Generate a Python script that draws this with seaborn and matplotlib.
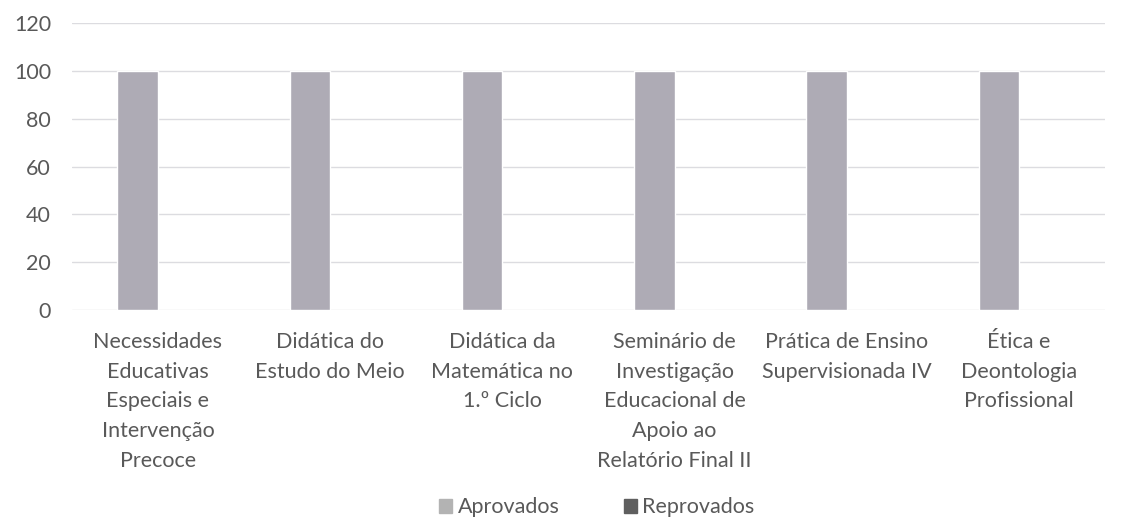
import pandas as pd
import matplotlib.pyplot as plt
import seaborn as sns
from matplotlib.patches import Patch

disciplinas = [
    "Necessidades\nEducativas\nEspeciais e\nIntervenção\nPrecoce",
    "Didática do\nEstudo do Meio",
    "Didática da\nMatemática no\n1.º Ciclo",
    "Seminário de\nInvestigação\nEducacional de\nApoio ao\nRelatório Final II",
    "Prática de Ensino\nSupervisionada IV",
    "Ética e\nDeontologia\nProfissional",
]
aprovados = [100, 100, 100, 100, 100, 100]
reprovados = [0, 0, 0, 0, 0, 0]
series = ["Aprovados", "Reprovados"]
y_ticks = [0, 20, 40, 60, 80, 100, 120]

df = pd.DataFrame({
    "disciplina": disciplinas * 2,
    "valor": aprovados + reprovados,
    "serie": [series[0]] * len(disciplinas) + [series[1]] * len(disciplinas),
})

sns.set_style("white")
plt.rcParams['font.family'] = ['Lato', 'DejaVu Sans']
txt = "#595959"

fig, ax = plt.subplots(figsize=(11.22, 5.21), dpi=100)
fig.subplots_adjust(left=0.064, right=0.985, top=0.955, bottom=0.405)

colors = {"Aprovados": "#aeabb5", "Reprovados": "#5f5f5f"}
sns.barplot(data=df, x="disciplina", y="valor", hue="serie", palette=colors,
            width=0.47, ax=ax, legend=False, saturation=1)

ax.set_ylim(0, 120)
ax.set_yticks(y_ticks)
ax.yaxis.grid(True, color="#dcdce0", linewidth=1)
ax.set_axisbelow(True)
for s in ax.spines.values():
    s.set_visible(False)
ax.set_xlabel("")
ax.set_ylabel("")
ax.tick_params(axis="both", length=0, labelsize=15.5, colors=txt)
ax.tick_params(axis="x", pad=16)
ax.tick_params(axis="y", pad=15)
for lbl in ax.get_xticklabels():
    lbl.set_linespacing(1.6)

handles = [Patch(color="#b3b3b3", label="Aprovados"),
           Patch(color="#5f5f5f", label="Reprovados")]
fig.legend(handles=handles, loc="lower center", ncol=2, frameon=False,
           fontsize=15.5, labelcolor=txt, handlelength=0.6, handleheight=0.6,
           handletextpad=0.25, columnspacing=3.0, bbox_to_anchor=(0.532, -0.03))

fig.savefig("out.png", dpi=100, facecolor="white")
